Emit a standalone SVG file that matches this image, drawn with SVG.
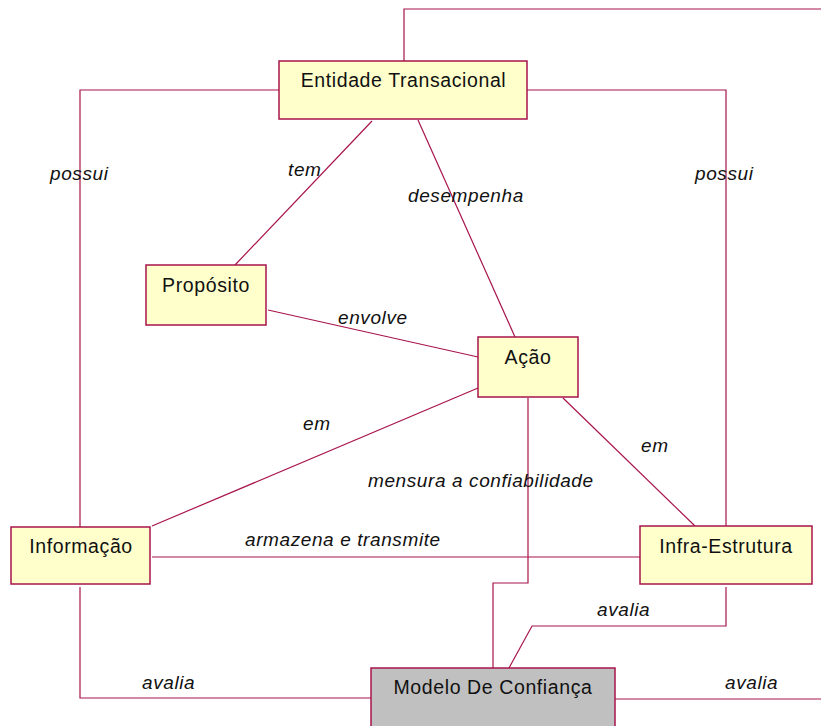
<svg xmlns="http://www.w3.org/2000/svg" width="821" height="726" viewBox="0 0 821 726">
  <style>
    .box { fill: #ffffcc; stroke: #a8144c; stroke-width: 1.5; }
    .grey { fill: #c0c0c0; }
    .name { font-family: "Liberation Sans", Arial, sans-serif; font-size: 19.5px; letter-spacing: 0.6px; fill: #111; text-anchor: middle; }
    .rel { font-family: "Liberation Sans", Arial, sans-serif; font-size: 19px; letter-spacing: 0.6px; font-style: italic; fill: #111; }
    .link { fill: none; stroke: #a8144c; stroke-width: 1.2; }
  </style>
  <rect width="821" height="726" fill="#ffffff"/>

  <g id="connectors">
    <polyline class="link" points="404,61 404,9 821,9"/>
    <polyline class="link" points="279,90 80,90 80,527"/>
    <polyline class="link" points="527,90 726,90 726,526"/>
    <line class="link" x1="372" y1="121" x2="235" y2="265"/>
    <line class="link" x1="418" y1="120" x2="515" y2="337"/>
    <line class="link" x1="268" y1="310" x2="478" y2="357"/>
    <line class="link" x1="478" y1="388" x2="152" y2="526"/>
    <line class="link" x1="563" y1="398" x2="695" y2="526"/>
    <polyline class="link" points="528,398 528,583 493,583 493,668"/>
    <line class="link" x1="152" y1="557" x2="640" y2="557"/>
    <polyline class="link" points="80,587 80,698 371,698"/>
    <polyline class="link" points="726,587 726,626 532,626 509,668"/>
    <line class="link" x1="615" y1="699" x2="821" y2="699"/>
  </g>

  <g id="labels">
    <text class="rel" x="50" y="180">possui</text>
    <text class="rel" x="288" y="176">tem</text>
    <text class="rel" x="408" y="202">desempenha</text>
    <text class="rel" x="695" y="180">possui</text>
    <text class="rel" x="338" y="324">envolve</text>
    <text class="rel" x="303" y="430">em</text>
    <text class="rel" x="641" y="452">em</text>
    <text class="rel" x="368" y="486.5">mensura a confiabilidade</text>
    <text class="rel" x="245" y="546">armazena e transmite</text>
    <text class="rel" x="597" y="616">avalia</text>
    <text class="rel" x="142" y="689">avalia</text>
    <text class="rel" x="725" y="689">avalia</text>
  </g>

  <g id="entidade-transacional">
    <rect class="box" x="279" y="61" width="248" height="58"/>
    <text class="name" x="403.5" y="87">Entidade Transacional</text>
  </g>
  <g id="proposito">
    <rect class="box" x="146" y="265" width="120" height="60"/>
    <text class="name" x="206" y="292">Propósito</text>
  </g>
  <g id="acao">
    <rect class="box" x="478" y="337" width="100" height="60"/>
    <text class="name" x="528" y="364">Ação</text>
  </g>
  <g id="informacao">
    <rect class="box" x="11" y="527" width="139" height="57"/>
    <text class="name" x="81" y="553">Informação</text>
  </g>
  <g id="infra-estrutura">
    <rect class="box" x="640" y="526" width="172" height="58"/>
    <text class="name" x="726" y="553">Infra-Estrutura</text>
  </g>
  <g id="modelo-de-confianca">
    <rect class="box grey" x="371" y="668" width="244" height="70"/>
    <text class="name" x="493" y="694">Modelo De Confiança</text>
  </g>
</svg>
